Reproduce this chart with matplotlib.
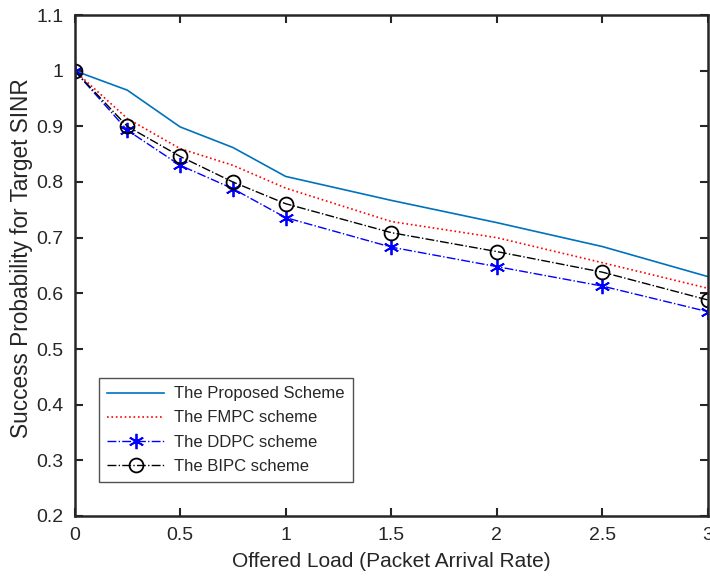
import matplotlib
matplotlib.use("Agg")
import matplotlib.pyplot as plt

plt.rcParams['font.family'] = ['Liberation Sans', 'DejaVu Sans']

load = [0, 0.25, 0.5, 0.75, 1, 1.5, 2, 2.5, 3]
proposed = [1.0, 0.965, 0.899, 0.862, 0.810, 0.767, 0.727, 0.684, 0.630]
fmpc = [1.0, 0.914, 0.860, 0.830, 0.789, 0.729, 0.700, 0.655, 0.609]
ddpc = [1.0, 0.893, 0.830, 0.788, 0.736, 0.683, 0.648, 0.613, 0.567]
bipc = [1.0, 0.900, 0.846, 0.800, 0.761, 0.709, 0.675, 0.638, 0.588]

xticks = [0, 0.5, 1, 1.5, 2, 2.5, 3]
xticklabels = ["0", "0.5", "1", "1.5", "2", "2.5", "3"]
yticks = [0.2, 0.3, 0.4, 0.5, 0.6, 0.7, 0.8, 0.9, 1.0, 1.1]
yticklabels = ["0.2", "0.3", "0.4", "0.5", "0.6", "0.7", "0.8", "0.9", "1", "1.1"]

fig = plt.figure(figsize=(7.1, 5.82), dpi=100)
W, H = 710, 582
x0, x1, y0, y1 = 74.5, 708, 15, 516
ax = fig.add_axes([x0 / W, (H - y1) / H, (x1 - x0) / W, (y1 - y0) / H])

asterisk = (6, 2, 0)
ax.plot(load, proposed, '-', color='#0072BD', lw=1.2, label='The Proposed Scheme')
ax.plot(load, fmpc, ':', color='red', lw=1.2, label='The FMPC scheme')
ax.plot(load, ddpc, '-.', color='blue', lw=1.0, marker=asterisk, markersize=11,
        markeredgewidth=1.3, label='The DDPC scheme')
ax.plot(load, bipc, '-.', color='black', lw=1.0, marker='o', markersize=10,
        markerfacecolor='none', markeredgewidth=1.3, label='The BIPC scheme')

ax.set_xlim(0, 3)
ax.set_ylim(0.2, 1.1)
ax.set_xticks(xticks)
ax.set_xticklabels(xticklabels)
ax.set_yticks(yticks)
ax.set_yticklabels(yticklabels)
ax.tick_params(direction='in', length=6, width=1.5, top=True, right=True,
               labelsize=14, colors='#262626', pad=8)
for s in ax.spines.values():
    s.set_linewidth(1.8)
    s.set_color('#262626')

ax.set_xlabel('Offered Load (Packet Arrival Rate)', fontsize=15, color='#262626', labelpad=6)
ax.set_ylabel('Success Probability for Target SINR', fontsize=16.3, color='#262626')
ax.yaxis.set_label_coords((33 - x0) / (x1 - x0), (y1 - 258) / (y1 - y0))

leg = ax.legend(loc='upper left',
                bbox_to_anchor=((99 - x0) / (x1 - x0), (y1 - 378) / (y1 - y0)),
                borderaxespad=0,
                fontsize=12, frameon=True, fancybox=False, edgecolor='#262626',
                handlelength=3.4, borderpad=0.5, labelspacing=0.55, handletextpad=0.6)
leg.get_frame().set_linewidth(1.0)
for t in leg.get_texts():
    t.set_color('#262626')

fig.savefig('out.png', dpi=100)
